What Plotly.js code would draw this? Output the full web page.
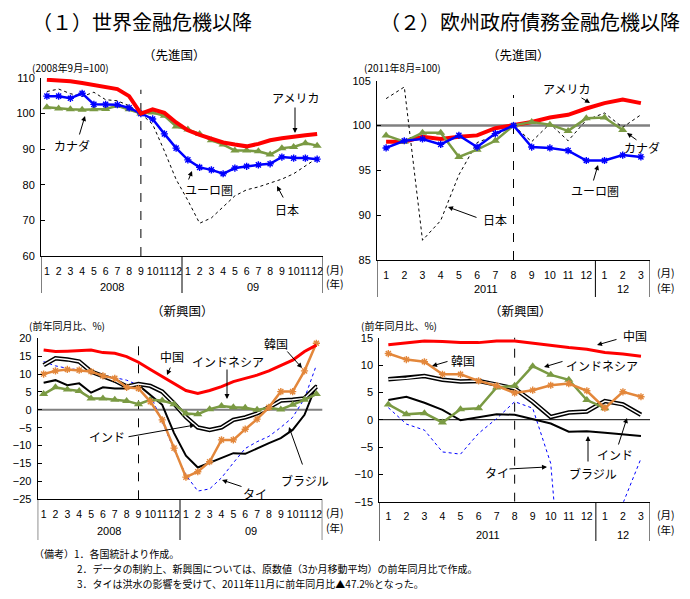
<!DOCTYPE html>
<html><head><meta charset="utf-8">
<script src="https://cdn.plot.ly/plotly-3.0.1.min.js"></script>
<style>body{margin:0;padding:0;background:#fff}#chart{width:690px;height:599px}</style>
</head><body><div id="chart"></div>
<script>
// ---------- data ----------
const monthsA = ['1','2','3','4','5','6','7','8','9','10','11','12','1','2','3','4','5','6','7','8','9','10','11','12'];
const yearsA = ['2008','09'];
const monthsB = ['1','2','3','4','5','6','7','8','9','10','11','12','1','2','3'];
const yearsB = ['2011','12'];

// (1) advanced (2008/9 = 100)
const p1_usa = [109.5,109.3,109.1,108.6,108.1,107.6,106.9,104.9,100.0,101.2,100.2,97.5,95.3,94.0,92.9,91.9,91.3,90.8,91.5,92.5,93.1,93.6,93.9,94.3];
const p1_euro = [104.9,104.9,104.3,105.7,102.6,102.6,102.5,101.6,100.0,98.5,94.3,90.3,87.0,84.9,84.2,83.1,84.7,85.2,85.6,85.9,87.8,87.5,87.5,87.2];
const p1_can = [101.8,101.4,101.2,101.1,101.2,101.3,102.2,101.2,100.0,100.3,99.4,96.4,95.5,94.3,92.5,91.3,89.6,89.6,89.4,88.5,90.3,90.6,91.7,91.0];
const p1_jpn = [106.2,106.9,105.6,104.8,106.0,103.9,103.6,102.2,100.0,97.0,89.5,81.5,75.6,69.2,70.7,73.9,76.9,78.6,79.4,80.5,81.6,83.1,85.2,87.5];

// (2) advanced (2011/8 = 100)
const p2_usa = [98.2,98.2,98.75,98.5,98.75,98.9,99.7,100.0,100.4,100.9,101.2,101.9,102.5,102.9,102.5];
const p2_euro = [97.5,98.3,98.5,97.9,98.9,97.6,99.1,100.0,97.6,97.5,97.2,96.1,96.1,96.7,96.5];
const p2_can = [98.9,98.2,99.2,99.2,96.5,97.3,98.3,100.0,100.4,100.1,99.4,100.8,100.9,99.5,null];
const p2_jpn = [103.0,104.3,87.2,89.4,94.5,98.1,98.9,100.0,98.2,100.2,98.3,100.6,101.4,99.8,101.2];

// (1) emerging (yoy %)
const p3_chn = [16.7,16.3,16.4,16.5,16.7,16.0,15.8,14.9,13.3,11.3,9.3,7.2,5.4,4.6,5.4,6.5,7.9,8.8,9.7,10.9,12.3,13.9,16.3,18.1];
const p3_kor = [10.0,10.9,11.3,11.1,10.7,9.5,8.8,6.3,6.0,2.3,-2.8,-10.7,-18.8,-17.3,-14.5,-8.4,-8.4,-5.4,-2.6,0.7,5.1,5.1,10.9,18.6];
const p3_idn = [4.4,6.3,5.7,5.3,3.2,3.2,2.8,2.5,1.6,2.8,2.6,1.6,-1.0,-1.2,0.2,1.1,0.7,0.6,0.0,0.6,0.1,1.4,2.8,4.4];
const p3_ind = [12.5,14.4,14.1,13.5,10.7,9.5,8.2,6.5,7.2,6.7,5.1,1.8,-2.0,-4.9,-5.6,-4.9,-2.8,-2.1,-1.0,0.7,2.6,2.8,3.2,6.5];
const p3_bra = [7.6,8.3,6.9,7.4,4.8,6.3,6.0,6.0,6.9,4.2,1.4,-6.5,-12.8,-16.1,-14.8,-13.5,-12.1,-12.3,-10.7,-9.3,-7.9,-5.6,-1.4,7.0];
const p3_tha = [13.5,12.3,11.6,11.1,10.7,9.7,9.0,8.3,6.9,4.2,-3.3,-11.2,-18.2,-22.7,-22.1,-19.0,-14.8,-10.8,-8.9,-7.4,-4.9,-2.1,3.2,12.5];

// (2) emerging (yoy %)
const p4_chn = [13.7,14.0,14.4,14.3,14.1,14.1,14.4,14.4,14.0,13.5,13.2,12.9,12.3,12.0,11.6];
const p4_kor = [12.1,11.0,10.6,8.3,8.3,7.1,6.2,4.9,5.4,6.3,6.6,5.3,2.1,5.1,4.2];
const p4_idn = [2.8,1.0,1.2,-0.5,1.9,2.1,5.9,6.2,9.8,8.2,7.3,3.6,2.1,null,null];
const p4_ind = [7.4,7.6,8.0,7.3,7.0,7.1,6.5,5.7,3.3,0.5,1.3,1.5,3.4,2.8,0.9];
const p4_bra = [3.6,4.2,3.1,1.8,-0.1,0.5,1.0,0.9,0.1,-0.7,-2.2,-2.1,-2.4,-2.7,-3.0];
const p4_tha = [2.2,-0.8,-1.9,-5.9,-6.3,-2.5,0.2,3.3,2.1,-8.0,-47.2,-38.0,-24.0,-15.3,-7.1];

// ---------- helpers ----------
const W = 690, H = 599;
const X = px => px / W;
const Y = py => 1 - py / H;
const JP = "'Noto Sans CJK JP', 'Noto Sans', sans-serif";
const NUM = "'Liberation Sans', Arial, sans-serif";
const idxA = monthsA.map((_, i) => i);
const idxB = monthsB.map((_, i) => i);

const RED = '#FF0000', BLUE = '#0000FF', GREEN = '#7A9A43', ORANGE = '#E3873B';

function tr(ax, idx, data, line, marker) {
  const t = {x: idx, y: data, type: 'scatter', mode: marker ? 'lines+markers' : 'lines',
    xaxis: 'x' + ax, yaxis: 'y' + ax, line: line, hoverinfo: 'skip', showlegend: false, connectgaps: false};
  if (marker) t.marker = marker;
  return t;
}
const starM = c => ({symbol: 'asterisk-open', size: 6, color: c, line: {color: c, width: 1.4}});
const triM = {symbol: 'triangle-up', size: 8, color: GREEN};

const traces = [
  // panel 1
  tr('', idxA, p1_jpn, {color: '#000', width: 1, dash: 'dot'}),
  tr('', idxA, p1_can, {color: GREEN, width: 2.5}, triM),
  tr('', idxA, p1_euro, {color: BLUE, width: 2.5}, starM(BLUE)),
  tr('', idxA, p1_usa, {color: RED, width: 4}),
  // panel 2
  tr('2', idxB, p2_jpn, {color: '#000', width: 1, dash: 'dot'}),
  tr('2', idxB, p2_usa, {color: RED, width: 4}),
  tr('2', idxB, p2_can, {color: GREEN, width: 2.5}, triM),
  tr('2', idxB, p2_euro, {color: BLUE, width: 2.5}, starM(BLUE)),
  // panel 3
  tr('3', idxA, p3_tha, {color: BLUE, width: 1, dash: 'dot'}),
  tr('3', idxA, p3_bra, {color: '#000', width: 2}),
  tr('3', idxA, p3_ind, {color: '#000', width: 4.5}),
  tr('3', idxA, p3_ind, {color: '#fff', width: 1.5}),
  tr('3', idxA, p3_idn, {color: GREEN, width: 2.5}, triM),
  tr('3', idxA, p3_kor, {color: ORANGE, width: 2.5}, starM(ORANGE)),
  tr('3', idxA, p3_chn, {color: RED, width: 3}),
  // panel 4
  tr('4', idxB, p4_tha, {color: BLUE, width: 1, dash: 'dot'}),
  tr('4', idxB, p4_bra, {color: '#000', width: 2}),
  tr('4', idxB, p4_ind, {color: '#000', width: 4.5}),
  tr('4', idxB, p4_ind, {color: '#fff', width: 1.5}),
  tr('4', idxB, p4_idn, {color: GREEN, width: 2.5}, triM),
  tr('4', idxB, p4_kor, {color: ORANGE, width: 2.5}, starM(ORANGE)),
  tr('4', idxB, p4_chn, {color: RED, width: 3})
];

function xax(l, r, idx, labels, anchor) {
  return {domain: [X(l), X(r)], anchor: anchor, range: [-0.5, idx.length - 0.5],
    tickmode: 'array', tickvals: idx, ticktext: labels, ticks: '', showline: true, tickangle: 0,
    linecolor: '#000', linewidth: 1, showgrid: false, zeroline: false,
    tickfont: {family: NUM, size: 10.5, color: '#000'}, ticklabelstandoff: 5, fixedrange: true};
}
function yax(top, bot, rng, dtick, anchor) {
  return {domain: [Y(bot), Y(top)], anchor: anchor, range: rng, tick0: rng[0], dtick: dtick,
    ticks: 'inside', ticklen: 4, tickcolor: '#000', showline: true, linecolor: '#000', linewidth: 1,
    showgrid: false, zeroline: false, tickfont: {family: NUM, size: 11, color: '#000'},
    ticklabelstandoff: 3, fixedrange: true};
}

const shapes = [];
function hline(ax, yv, color, width) {
  shapes.push({type: 'line', xref: 'x' + ax + ' domain', x0: 0, x1: 1, yref: 'y' + ax, y0: yv, y1: yv,
    line: {color: color, width: width}, layer: 'below'});
}
function vdash(ax, xv, y0, y1) {
  shapes.push({type: 'line', xref: 'x' + ax, x0: xv, x1: xv, yref: 'y' + ax, y0: y0, y1: y1,
    line: {color: '#000', width: 1, dash: 'dash'}, layer: 'below'});
}
function divider(ax, xv, top, bot) {
  shapes.push({type: 'line', xref: 'x' + ax, x0: xv, x1: xv, yref: 'paper', y0: Y(top), y1: Y(bot),
    line: {color: '#000', width: 1}});
}
hline('2', 100, '#808080', 2.5);
hline('3', 0, '#808080', 2);
hline('4', 0, '#000', 1);
vdash('', 8, 60, 106.7);
vdash('2', 7, 85, 103.4);
vdash('3', 8, -25, 20.5);
vdash('4', 7, -15, 15.5);
[-0.5, 11.5, 23.5].forEach(v => divider('', v, 256, 293));
[-0.5, 11.5, 14.5].forEach(v => divider('2', v, 260, 297));
[-0.5, 11.5, 23.5].forEach(v => divider('3', v, 499, 540));
[-0.5, 11.5, 14.5].forEach(v => divider('4', v, 502, 541));

const ann = [];
function txt(x, y, text, size, anchor, fam) {
  ann.push({xref: 'paper', yref: 'paper', x: X(x), y: Y(y), text: text, showarrow: false,
    xanchor: anchor || 'center', yanchor: 'middle', font: {family: fam || JP, size: size, color: '#000'}});
}
function arr(tx, ty, hx, hy) {
  ann.push({xref: 'paper', yref: 'paper', x: X(hx), y: Y(hy), ax: tx - hx, ay: ty - hy, text: '',
    showarrow: true, arrowhead: 2, arrowsize: 1, arrowwidth: 1, arrowcolor: '#000'});
}
function yearLbl(ax, xv, y, text) {
  ann.push({xref: 'x' + ax, yref: 'paper', x: xv, y: Y(y), text: text, showarrow: false,
    xanchor: 'center', yanchor: 'middle', font: {family: NUM, size: 11, color: '#000'}});
}

// titles
txt(142, 22, '（１）世界金融危機以降', 20);
txt(530, 22, '（２）欧州政府債務金融危機以降', 20);
txt(174, 55, '（先進国）', 12.5);
txt(518, 55, '（先進国）', 12.5);
txt(182, 310, '（新興国）', 12.5);
txt(520, 310, '（新興国）', 12.5);
txt(30, 67, '(2008年9月=100)', 10, 'left');
txt(362, 67, '(2011年8月=100)', 10, 'left');
txt(27, 325, '(前年同月比、%)', 10, 'left');
txt(359, 325, '(前年同月比、%)', 10, 'left');

// year labels
yearLbl('', 5.5, 287, yearsA[0]); yearLbl('', 17.5, 287, yearsA[1]);
yearLbl('2', 5.5, 289, yearsB[0]); yearLbl('2', 13, 289, yearsB[1]);
yearLbl('3', 5.5, 531, yearsA[0]); yearLbl('3', 17.5, 531, yearsA[1]);
yearLbl('4', 5.5, 535, yearsB[0]); yearLbl('4', 13, 535, yearsB[1]);
[[335, 269, 283], [666, 272, 287], [335, 512, 527], [666, 514, 529]].forEach(p => {
  txt(p[0], p[1], '(月)', 10.5); txt(p[0], p[2], '(年)', 10.5);
});

// series labels + arrows panel 1
txt(295, 97, 'アメリカ', 12); arr(295, 106, 295, 133);
txt(72, 145, 'カナダ', 12); arr(79, 136, 85, 116);
txt(209, 189, 'ユーロ圏', 12); arr(188, 181, 192, 171);
txt(287, 210, '日本', 12); arr(284, 199, 277, 186);
// panel 2
txt(566, 89, 'アメリカ', 12); arr(580, 97, 590, 103);
txt(642, 147, 'カナダ', 12); arr(638, 141, 627, 133);
txt(595, 190, 'ユーロ圏', 12); arr(593, 182, 598, 165);
txt(495, 220, '日本', 12); arr(478, 218, 448, 207);
// panel 3
txt(172, 357, '中国', 12); arr(171, 366, 167, 375);
txt(228, 361, 'インドネシア', 12); arr(227, 368, 227, 399);
txt(276, 343, '韓国', 12); arr(286, 350, 302, 368);
txt(107, 436, 'インド', 12); arr(127, 437, 195, 425);
txt(305, 480, 'ブラジル', 12); arr(303, 466, 289, 427);
txt(255, 493, 'タイ', 12); arr(243, 487, 222, 480);
// panel 4
txt(635, 335, '中国', 12); arr(618, 339, 597, 345);
txt(463, 360, '韓国', 12); arr(449, 361, 432, 366);
txt(602, 365, 'インドネシア', 12); arr(564, 361, 544, 367);
txt(615, 454, 'インド', 12); arr(618, 446, 627, 418);
txt(593, 474, 'ブラジル', 12); arr(588, 463, 588, 436);
txt(497, 472, 'タイ', 12); arr(508, 469, 547, 467);

// notes
txt(32, 553, '（備考）1．各国統計より作成。', 10, 'left');
txt(75, 568, '2．データの制約上、新興国については、原数値（3か月移動平均）の前年同月比で作成。', 10, 'left');
txt(75, 583, '3．タイは洪水の影響を受けて、2011年11月に前年同月比▲47.2%となった。', 10, 'left');

const layout = {
  width: W, height: H, margin: {l: 0, r: 0, t: 0, b: 0}, paper_bgcolor: '#fff', plot_bgcolor: 'rgba(0,0,0,0)',
  showlegend: false, font: {family: JP, color: '#000'},
  xaxis: xax(41, 323, idxA, monthsA, 'y'),
  yaxis: yax(78, 256, [60, 110], 10, 'x'),
  xaxis2: xax(377, 650, idxB, monthsB, 'y2'),
  yaxis2: yax(80.7, 260, [85, 105], 5, 'x2'),
  xaxis3: xax(37.7, 322.3, idxA, monthsA, 'y3'),
  yaxis3: yax(338.3, 499.3, [-25, 20], 5, 'x3'),
  xaxis4: xax(379.3, 650, idxB, monthsB, 'y4'),
  yaxis4: yax(337.7, 501.7, [-15, 15], 5, 'x4'),
  shapes: shapes, annotations: ann
};
Plotly.newPlot('chart', traces, layout, {staticPlot: true, displayModeBar: false});
</script></body></html>
